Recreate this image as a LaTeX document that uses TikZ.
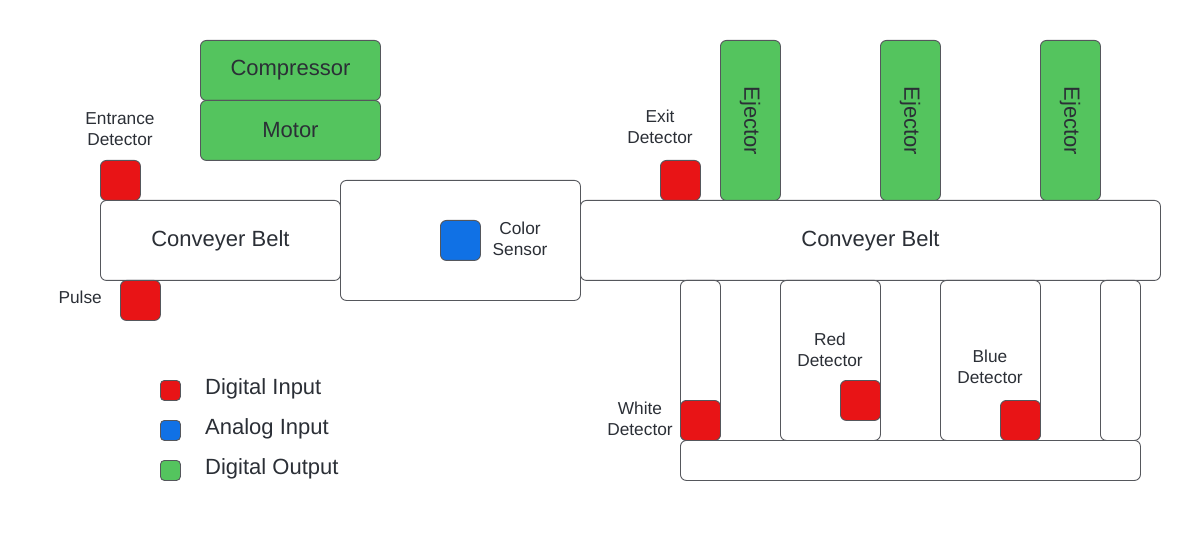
\documentclass[tikz,border=0pt]{standalone}
\usepackage{fontspec}
\setmainfont{Liberation Sans}
\begin{document}
\begin{tikzpicture}[x=1pt,y=-1pt,
  box/.style={draw=bordergray, line width=0.9pt, rounded corners=6pt, anchor=north west, inner sep=0pt, text=txt},
  whitebox/.style={box, fill=white},
  greenbox/.style={box, fill=outgreen},
  redsq/.style={box, fill=inred, minimum width=40pt, minimum height=40pt},
  bluesq/.style={box, fill=inblue, minimum width=40pt, minimum height=40pt},
  legsq/.style={box, rounded corners=4pt, minimum width=20pt, minimum height=20pt},
  big/.style={font=\fontsize{22}{26}\selectfont},
  small/.style={text=txt, align=center, inner sep=0pt, font=\fontsize{17.3}{21.5}\selectfont},
  legtxt/.style={text=txt, anchor=west, inner sep=0pt, font=\fontsize{22}{26}\selectfont}
]
\definecolor{bordergray}{HTML}{55575C}
\definecolor{txt}{HTML}{2B2F36}
\definecolor{inred}{HTML}{E81416}
\definecolor{inblue}{HTML}{1071E5}
\definecolor{outgreen}{HTML}{54C45E}
\useasboundingbox (0,0) rectangle (1200,540);

% Left section
\node[greenbox, big, minimum width=180pt, minimum height=60pt] (comp) at (200,40) {Compressor};
\node[greenbox, big, minimum width=180pt, minimum height=60pt] (motor) at (200,100) {Motor};
\node[whitebox, big, minimum width=240pt, minimum height=80pt] (beltL) at (100,200) {Conveyer Belt};
\node[redsq] (entr) at (100,160) {};
\node[small] (entrlbl) at (120,129) {Entrance\\Detector};
\node[redsq] (pulse) at (120,280) {};
\node[small, anchor=east] (pulselbl) at (102,297) {Pulse};

% Color sensor box
\node[whitebox, minimum width=240pt, minimum height=120pt] (sensbox) at (340,180) {};
\node[bluesq] (color) at (440,220) {};
\node[small] (colorlbl) at (520,239) {Color\\Sensor};

% Right conveyer
\node[whitebox, big, minimum width=580pt, minimum height=80pt] (beltR) at (580,200) {Conveyer Belt};
\node[redsq] (exit) at (660,160) {};
\node[small] (exitlbl) at (660,127) {Exit\\Detector};
\node[greenbox, minimum width=60pt, minimum height=160pt] (ej1) at (720,40) {};
\node[greenbox, minimum width=60pt, minimum height=160pt] (ej2) at (880,40) {};
\node[greenbox, minimum width=60pt, minimum height=160pt] (ej3) at (1040,40) {};
\node[big, text=txt, rotate=-90, inner sep=0pt] (ej1t) at (750,121) {Ejector};
\node[big, text=txt, rotate=-90, inner sep=0pt] (ej2t) at (910,121) {Ejector};
\node[big, text=txt, rotate=-90, inner sep=0pt] (ej3t) at (1070,121) {Ejector};

% Bins
\node[whitebox, minimum width=40pt, minimum height=160pt] (bin1) at (680,280) {};
\node[whitebox, minimum width=100pt, minimum height=160pt] (bin2) at (780,280) {};
\node[whitebox, minimum width=100pt, minimum height=160pt] (bin3) at (940,280) {};
\node[whitebox, minimum width=40pt, minimum height=160pt] (bin4) at (1100,280) {};
\node[whitebox, minimum width=460pt, minimum height=40pt] (base) at (680,440) {};
\node[redsq] (white) at (680,400) {};
\node[small] (whitelbl) at (640,419) {White\\Detector};
\node[redsq] (red) at (840,380) {};
\node[small] (redlbl) at (830,350) {Red\\Detector};
\node[redsq] (blue) at (1000,400) {};
\node[small] (bluelbl) at (990,367) {Blue\\Detector};

% Legend
\node[legsq, fill=inred] (lg1) at (160,380) {};
\node[legsq, fill=inblue] (lg2) at (160,420) {};
\node[legsq, fill=outgreen] (lg3) at (160,460) {};
\node[legtxt] (lt1) at (205,389) {Digital Input};
\node[legtxt] (lt2) at (205,429) {Analog Input};
\node[legtxt] (lt3) at (205,469) {Digital Output};
\end{tikzpicture}
\end{document}
